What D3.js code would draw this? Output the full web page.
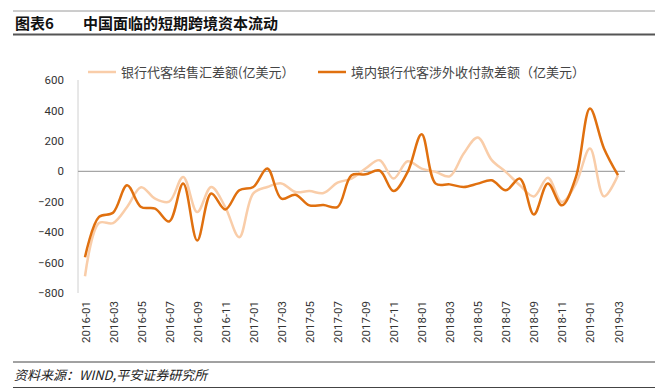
<!DOCTYPE html>
<html lang="zh">
<head>
<meta charset="utf-8">
<script src="https://d3js.org/d3.v7.min.js"></script>
<style>
  body { margin: 0; background: #fff; }
  svg text { font-family: "Noto Sans CJK SC", "Noto Sans", sans-serif; }
</style>
</head>
<body>
<script>
// months 2016-01 .. 2019-03
var months = [
  "2016-01","2016-02","2016-03","2016-04","2016-05","2016-06","2016-07","2016-08","2016-09","2016-10","2016-11","2016-12",
  "2017-01","2017-02","2017-03","2017-04","2017-05","2017-06","2017-07","2017-08","2017-09","2017-10","2017-11","2017-12",
  "2018-01","2018-02","2018-03","2018-04","2018-05","2018-06","2018-07","2018-08","2018-09","2018-10","2018-11","2018-12",
  "2019-01","2019-02","2019-03"
];
// 银行代客结售汇差额
var jsh = [
  -690, -340, -340, -235, -105, -180, -200, -37, -268, -103, -235, -433,
  -145, -103, -80, -136, -130, -143, -75, -48, 18, 73, -48, 66,
  18, -4, -33, 117, 222, 73, -4, -92, -165, -42, -202, -81,
  150, -165, -26
];
// 境内银行代客涉外收付款差额
var sfk = [
  -565, -300, -272, -92, -235, -245, -330, -80, -455, -146, -251, -125,
  -103, 18, -180, -154, -224, -222, -235, -26, -20, 5, -130, -5,
  244, -81, -86, -103, -81, -59, -125, -48, -284, -81, -224, -37,
  413, 150, -26
];
var yTicks = [-800, -600, -400, -200, 0, 200, 400, 600];
var seriesNames = ["银行代客结售汇差额(亿美元）", "境内银行代客涉外收付款差额（亿美元）"];

var W = 666, H = 389;
var svg = d3.select("body").append("svg").attr("width", W).attr("height", H);

// header
svg.append("line").attr("x1", 13).attr("x2", 655).attr("y1", 11).attr("y2", 11)
  .attr("stroke", "#9a9a9a").attr("stroke-width", 1);
svg.append("line").attr("x1", 13).attr("x2", 655).attr("y1", 34.5).attr("y2", 34.5)
  .attr("stroke", "#555").attr("stroke-width", 2);
svg.append("text").attr("x", 15).attr("y", 29).attr("font-size", 15).attr("font-weight", "bold")
  .attr("fill", "#111").text("图表6");
svg.append("text").attr("x", 83).attr("y", 29).attr("font-size", 15).attr("font-weight", "bold")
  .attr("fill", "#111").text("中国面临的短期跨境资本流动");

var x = d3.scalePoint().domain(months).range([85, 618]);
var y = d3.scaleLinear().domain([-800, 600]).range([293, 80]);

// y axis
var yAxis = svg.append("g").attr("transform", "translate(78,0)")
  .call(d3.axisLeft(y).tickValues(yTicks).tickSize(0).tickPadding(14));
yAxis.select(".domain").remove();
yAxis.selectAll("text").attr("font-size", 11.5).attr("fill", "#333")
  .style("font-family", "Roboto, 'Noto Sans', sans-serif");
svg.append("line").attr("x1", 78).attr("x2", 78).attr("y1", 80).attr("y2", 293)
  .attr("stroke", "#d0d0d0").attr("stroke-width", 1);

// zero line
svg.append("line").attr("x1", 78).attr("x2", 625).attr("y1", y(0)).attr("y2", y(0))
  .attr("stroke", "#a6a6a6").attr("stroke-width", 1.2);

// x axis
var xAxis = svg.append("g").attr("transform", "translate(0,293)")
  .call(d3.axisBottom(x).tickValues(months.filter(function(d, i) { return i % 2 == 0; })).tickSize(0));
xAxis.select(".domain").remove();
xAxis.selectAll("text")
  .attr("font-size", 11.5).attr("fill", "#333")
  .style("font-family", "Roboto, 'Noto Sans', sans-serif")
  .attr("transform", "rotate(-90)")
  .attr("text-anchor", "end")
  .attr("x", -8).attr("y", 0).attr("dy", "0.35em");

// lines
var line = d3.line()
  .x(function(d, i) { return x(months[i]); })
  .y(function(d) { return y(d); })
  .curve(d3.curveCatmullRom.alpha(0.5));

svg.append("path").datum(jsh).attr("d", line)
  .attr("fill", "none").attr("stroke", "#f9cda9").attr("stroke-width", 2.5);
svg.append("path").datum(sfk).attr("d", line)
  .attr("fill", "none").attr("stroke", "#e0700f").attr("stroke-width", 2.5);

// legend
var legend = [
  { x: 88, color: "#f9cda9", name: seriesNames[0] },
  { x: 318, color: "#e0700f", name: seriesNames[1] }
];
legend.forEach(function(l) {
  svg.append("line").attr("x1", l.x).attr("x2", l.x + 28).attr("y1", 72).attr("y2", 72)
    .attr("stroke", l.color).attr("stroke-width", 2.5);
  svg.append("text").attr("x", l.x + 33).attr("y", 76.5).attr("font-size", 13)
    .attr("fill", "#444").text(l.name);
});

// source
svg.append("line").attr("x1", 13).attr("x2", 655).attr("y1", 362).attr("y2", 362)
  .attr("stroke", "#444").attr("stroke-width", 1);
svg.append("line").attr("x1", 13).attr("x2", 655).attr("y1", 387.5).attr("y2", 387.5)
  .attr("stroke", "#444").attr("stroke-width", 1);
svg.append("text").attr("x", 14).attr("y", 380).attr("font-size", 13).attr("font-style", "italic")
  .attr("fill", "#222").text("资料来源：WIND,平安证券研究所");
</script>
</body>
</html>
